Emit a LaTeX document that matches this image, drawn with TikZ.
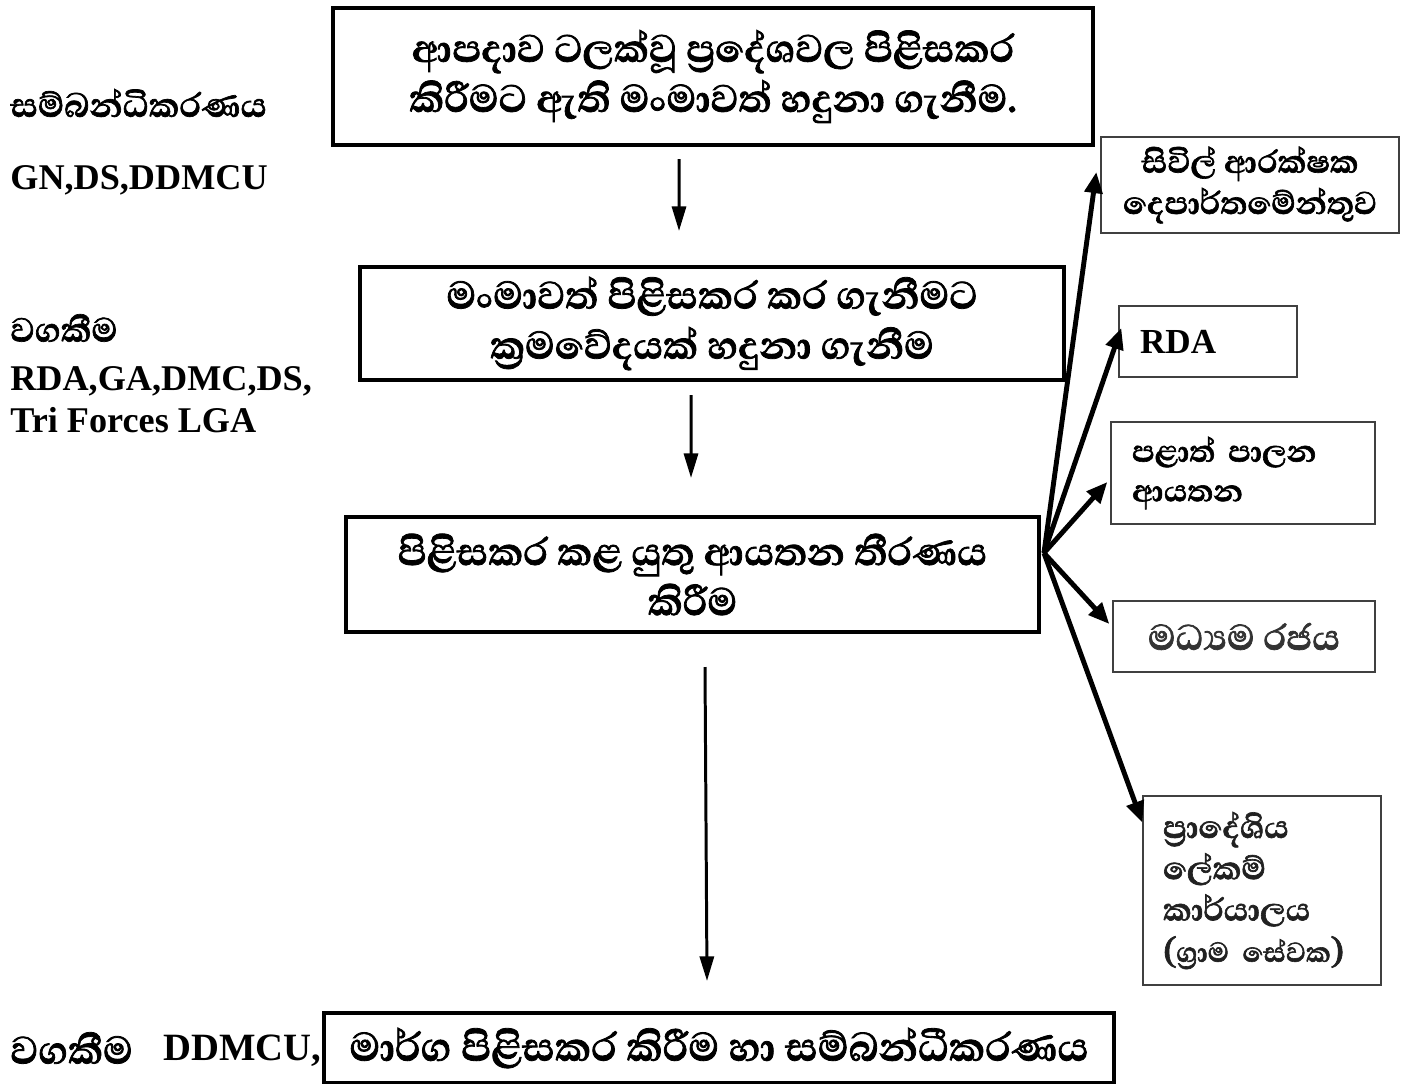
\documentclass[tikz,border=0pt]{standalone}
\usepackage{fontspec}
\setmainfont{Liberation Serif}
\newfontfamily\sinhfont[Script=Sinhala, BoldFeatures={FakeBold=1.6}]{Abhaya Libre}
\usetikzlibrary{arrows.meta}
\begin{document}
\begin{tikzpicture}[x=0.02cm,y=-0.02cm]
\tikzset{
  mainbox/.style={draw, line width=2.3pt, inner sep=0pt, align=center,
    font=\sinhfont\bfseries\fontsize{28}{28.5}\selectfont},
  sidebox/.style={draw=black!75, line width=0.8pt, inner sep=0pt,
    font=\sinhfont\bfseries\fontsize{23}{23.5}\selectfont},
  latinlbl/.style={inner sep=0pt, anchor=base west, font=\bfseries\fontsize{20.6}{24}\selectfont},
  sinhlbl/.style={inner sep=0pt, anchor=west, font=\sinhfont\bfseries\fontsize{24.5}{26}\selectfont},
  mainarr/.style={-{Triangle[length=14pt,width=8pt]}, line width=1.7pt},
  fanarr/.style={-{Triangle[length=12pt,width=10pt]}, line width=2.8pt}
}
\useasboundingbox (0,0) rectangle (1415,1084);
\fill[white] (0,0) rectangle (1415,1084);

% main boxes
\node[mainbox, minimum width=15.2cm, minimum height=2.74cm] (box1) at (713,76.5)
  {ආපදාව ටලක්වූ ප්^^^^200dරදේශවල පිළිසකර\\කිරීමට ඇති මංමාවත් හදුනා ගැනීම.};
\node[mainbox, minimum width=14.08cm, minimum height=2.26cm] (box2) at (712,323.5)
  {මංමාවත් පිළිසකර කර ගැනීමට\\ක්^^^^200dරමවේදයක් හදුනා ගැනීම};
\node[mainbox, minimum width=13.86cm, minimum height=2.3cm] (box3) at (692.5,574.5)
  {පිළිසකර කළ යුතු ආයතන තීරණය\\කිරීම};
\node[mainbox, minimum width=15.8cm, minimum height=1.4cm, font=\sinhfont\bfseries\fontsize{29}{30}\selectfont] (box4) at (719,1048)
  {මාර්ග පිළිසකර කිරීම හා සම්බන්ධීකරණය};

% side boxes
\node[sidebox, align=center, minimum width=5.96cm, minimum height=1.92cm] (bA) at (1250,185)
  {සිවිල් ආරක්ෂක\\දෙපාර්තමේන්තුව};
\node[sidebox, align=left, minimum width=3.56cm, minimum height=1.42cm, inner xsep=0.42cm,
  text width=2.72cm, font=\bfseries\fontsize{20}{24}\selectfont] (bB) at (1208,341.5) {RDA};
\node[sidebox, align=left, minimum width=5.28cm, minimum height=2.04cm, inner xsep=0.42cm,
  text width=4.44cm, font=\sinhfont\bfseries\fontsize{22}{22.5}\selectfont] (bC) at (1243,473) {පළාත් පාලන\\ආයතන};
\node[sidebox, align=center, minimum width=5.24cm, minimum height=1.42cm, text=black!80,
  font=\sinhfont\bfseries\fontsize{26}{27}\selectfont] (bD) at (1244,636.5)
  {මධ්^^^^200dයම රජය};
\node[sidebox, align=left, minimum width=4.76cm, minimum height=3.78cm, inner xsep=0.4cm,
  text width=3.96cm, text=black!87] (bE) at (1262,890.5)
  {ප්^^^^200dරාදේශිය\\ලේකම්\\කාර්යාලය\\\mbox{({\fontsize{20}{23.5}\selectfont ග්^^^^200dරාම සේවක})}};

% left labels
\node[sinhlbl] (l1) at (10,103) {සම්බන්ධිකරණය};
\node[latinlbl] (l2) at (10,190) {GN,DS,DDMCU};
\node[sinhlbl] (l3) at (10,328) {වගකීම};
\node[latinlbl] (l4) at (10,390) {RDA,GA,DMC,DS,};
\node[latinlbl] (l5) at (10,432) {Tri Forces LGA};
\node[sinhlbl, font=\sinhfont\bfseries\fontsize{28}{30}\selectfont] (l6) at (10,1048) {වගකීම};
\node[latinlbl, font=\bfseries\fontsize{22}{26}\selectfont] (l7) at (163,1060) {DDMCU,};

% main arrows
\draw[mainarr] ([xshift=-0.68cm,yshift=-0.24cm]box1.south) -- ([xshift=-0.66cm,yshift=0.68cm]box2.north);
\draw[mainarr] ([xshift=-0.42cm,yshift=-0.26cm]box2.south) -- ([xshift=-0.03cm,yshift=0.74cm]box3.north);
\draw[mainarr] ([xshift=0.25cm,yshift=-0.66cm]box3.south) -- ([xshift=-0.24cm,yshift=0.6cm]box4.north);

% fan arrows
\coordinate (fan) at ([xshift=0.06cm,yshift=0.43cm]box3.east);
\draw[fanarr] (fan) -- ([xshift=-0.08cm,yshift=0.26cm]bA.west);
\draw[fanarr] (fan) -- ([xshift=0.06cm,yshift=0.27cm]bB.west);
\draw[fanarr] (fan) -- ([xshift=-0.06cm,yshift=-0.18cm]bC.west);
\draw[fanarr] (fan) -- ([xshift=-0.06cm,yshift=0.25cm]bD.west);
\draw[fanarr] (fan) -- ([xshift=0cm,yshift=1.36cm]bE.west);
\end{tikzpicture}
\end{document}
